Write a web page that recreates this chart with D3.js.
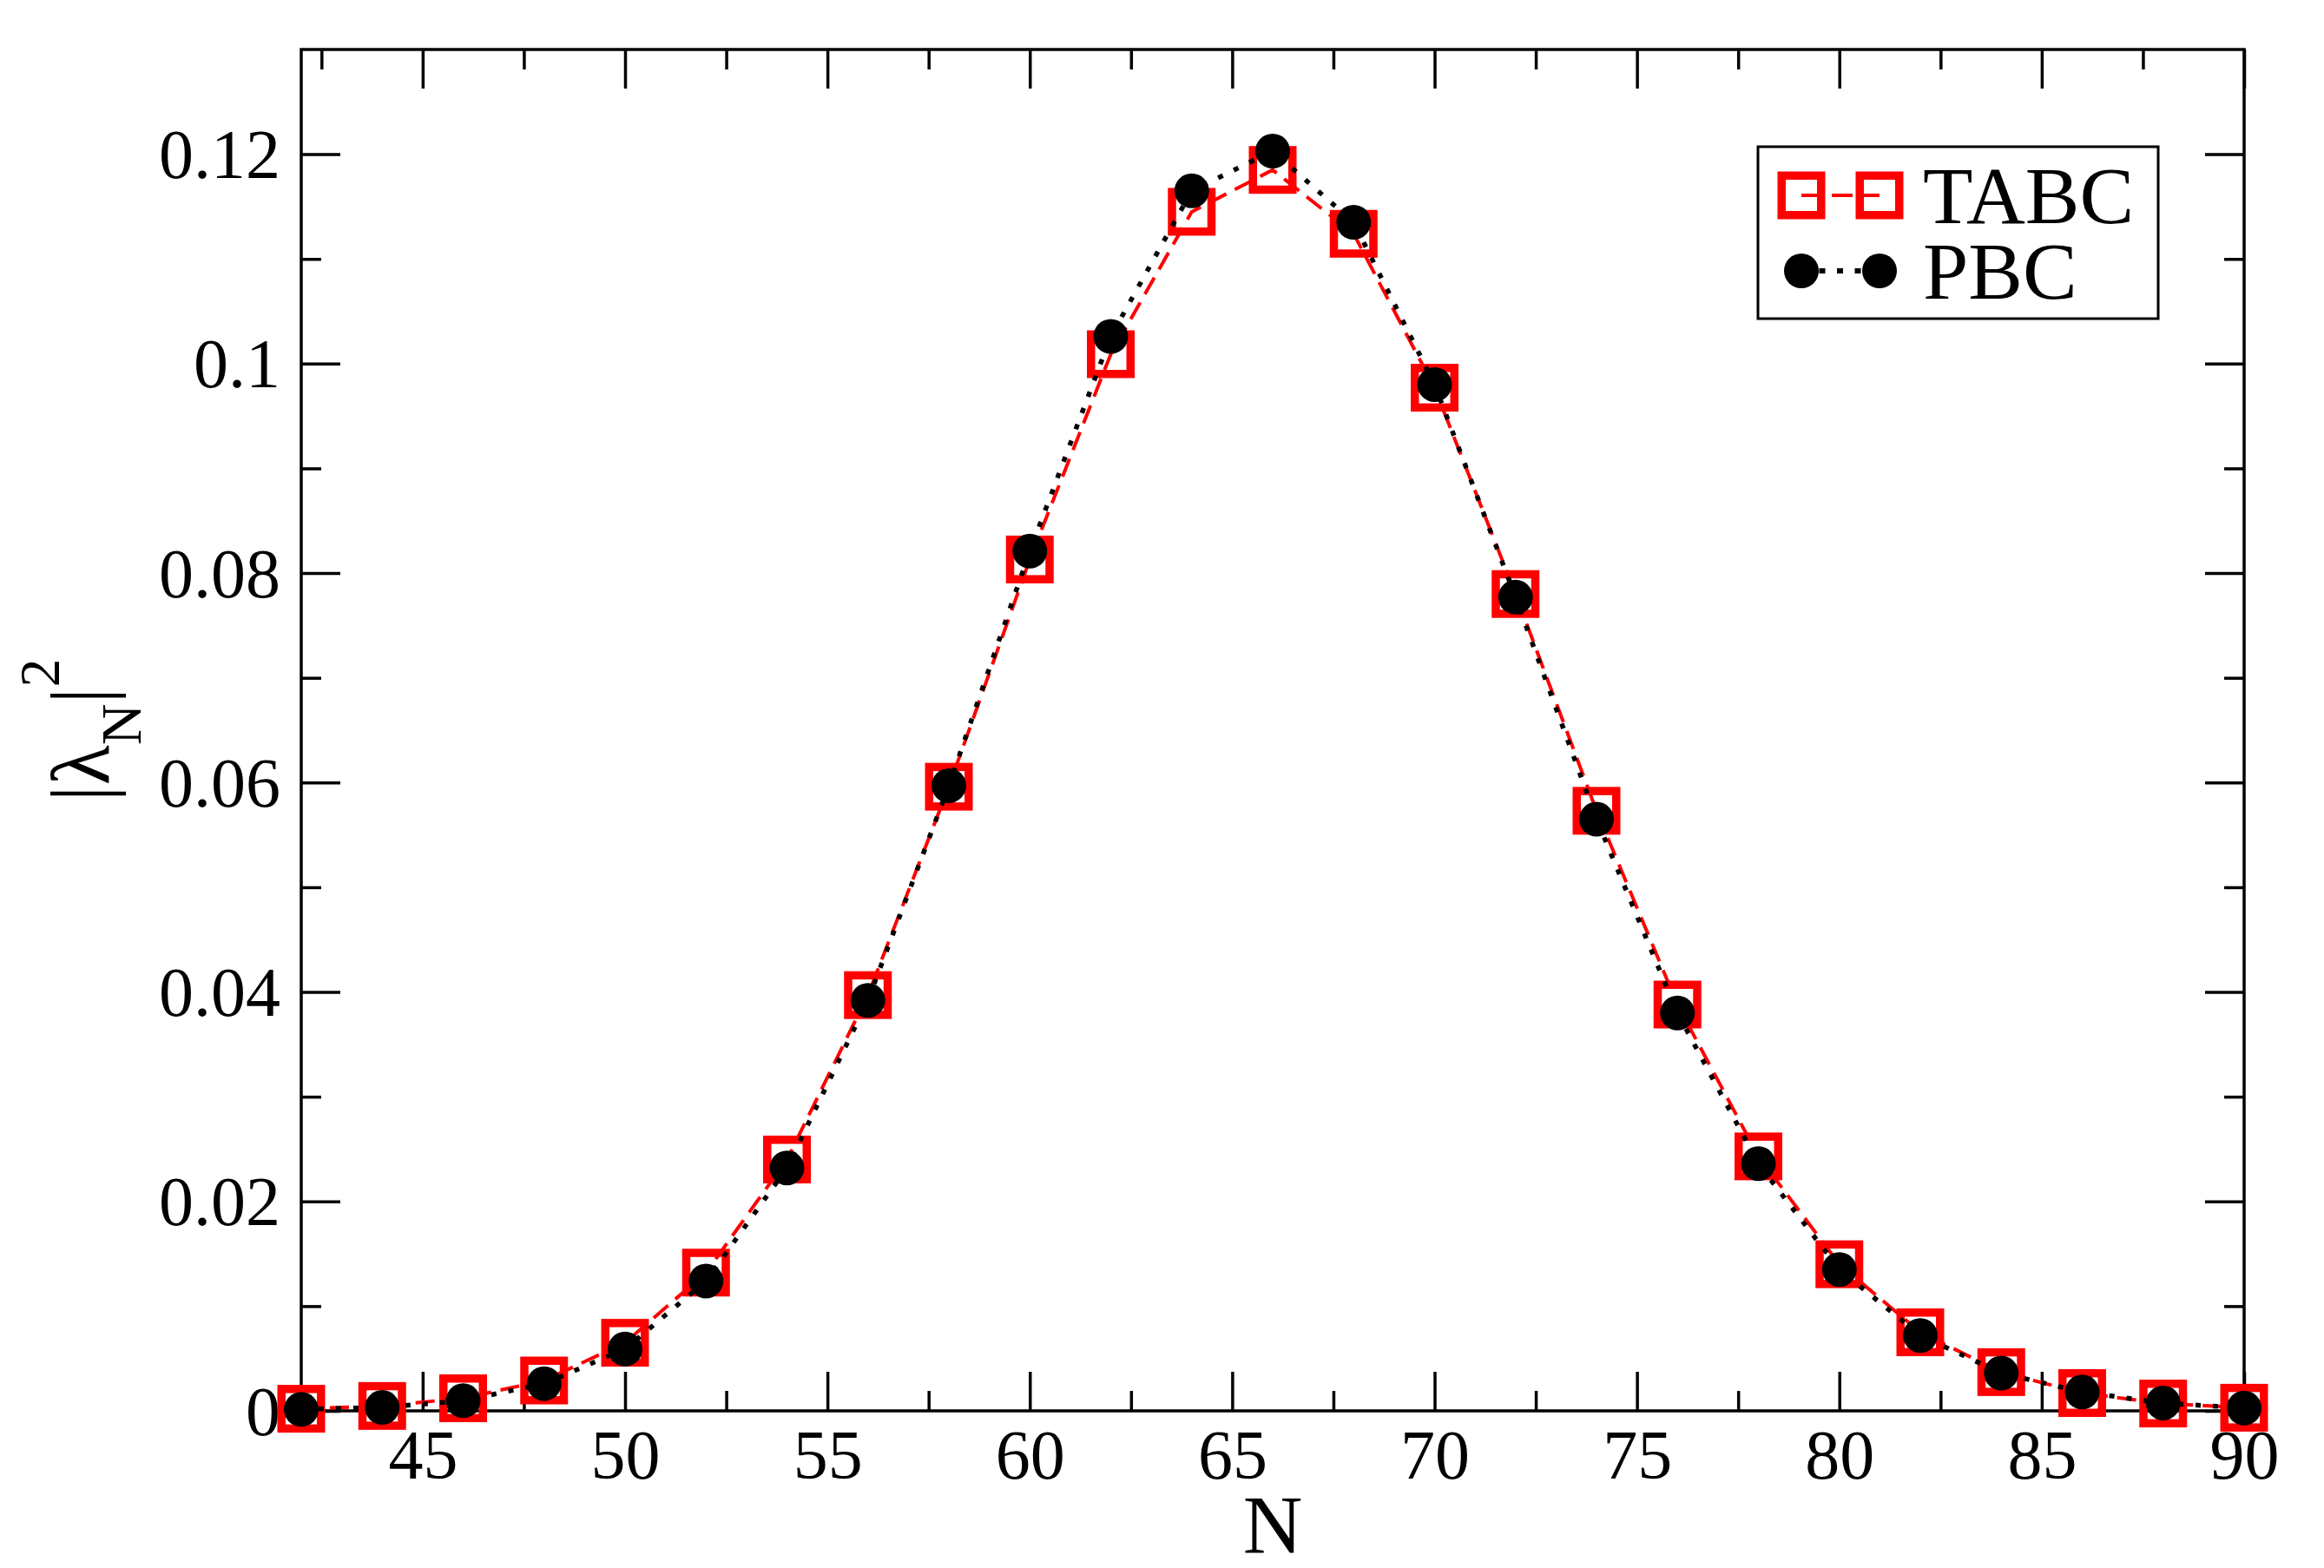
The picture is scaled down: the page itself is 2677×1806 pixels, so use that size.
<!DOCTYPE html>
<html>
<head>
<meta charset="utf-8">
<script src="https://cdn.jsdelivr.net/npm/d3@7"></script>
<style>
  body { margin: 0; background: #fff; }
  svg { display: block; }
  text { font-family: "Liberation Serif", "Times New Roman", serif; fill: #000; }
</style>
</head>
<body>
<div id="chart"></div>
<script>
const width = 2677
const height = 1806
const margin = { left: 347, right: 92, top: 57, bottom: 181 }

// data
const nValues = [42, 44, 46, 48, 50, 52, 54, 56, 58, 60, 62, 64, 66, 68, 70, 72, 74, 76, 78, 80, 82, 84, 86, 88, 90]
const tabc = [0.0002, 0.00047, 0.0012, 0.0029, 0.0065, 0.0132, 0.0240, 0.0397, 0.0596, 0.0813, 0.1009, 0.1145, 0.1185,
  0.1124, 0.0977, 0.0780, 0.0573, 0.0388, 0.0243, 0.0140, 0.0075, 0.0037, 0.0017, 0.0007, 0.0003]
const pbc = [0.00014, 0.00033, 0.00097, 0.0026, 0.0059, 0.0124, 0.0232, 0.0392, 0.0597, 0.0821, 0.1026, 0.1165, 0.1203,
  0.1135, 0.0980, 0.0777, 0.0565, 0.0380, 0.0236, 0.0135, 0.0072, 0.0036, 0.0018, 0.00075, 0.00027]

const xMajor = [45, 50, 55, 60, 65, 70, 75, 80, 85, 90]
const xMinor = [42.5, 47.5, 52.5, 57.5, 62.5, 67.5, 72.5, 77.5, 82.5, 87.5]
const yMajor = [0, 0.02, 0.04, 0.06, 0.08, 0.1, 0.12]
const yMinor = [0.01, 0.03, 0.05, 0.07, 0.09, 0.11]
const yLabels = ['0', '0.02', '0.04', '0.06', '0.08', '0.1', '0.12']
const seriesNames = ['TABC', 'PBC']

const x = d3.scaleLinear().domain([42, 90]).range([margin.left, width - margin.right])
const y = d3.scaleLinear().domain([0, 0.13]).range([height - margin.bottom, margin.top])

const svg = d3.select('#chart')
  .append('svg')
    .attr('width', width)
    .attr('height', height)

const majorLen = 45
const minorLen = 23
const tickFont = 80

// inward ticks on all four sides
const addAxis = (axis, transform) => svg.append('g')
  .attr('transform', transform)
  .call(axis)
  .call(g => g.select('.domain').remove())
  .call(g => g.selectAll('line').attr('stroke', '#000').attr('stroke-width', 3.5))

const x0 = x.range()[0], x1 = x.range()[1]
const y0 = y.range()[0], y1 = y.range()[1]

// bottom
addAxis(d3.axisBottom(x).tickValues(xMajor).tickSize(-majorLen).tickSizeOuter(0), `translate(0,${y0})`)
  .call(g => g.selectAll('text')
    .text(d => d)
    .attr('y', 78).attr('dy', 0)
    .attr('font-size', tickFont))
addAxis(d3.axisBottom(x).tickValues(xMinor).tickSize(-minorLen).tickSizeOuter(0).tickFormat(''), `translate(0,${y0})`)
// top
addAxis(d3.axisTop(x).tickValues(xMajor).tickSize(-majorLen).tickSizeOuter(0).tickFormat(''), `translate(0,${y1})`)
addAxis(d3.axisTop(x).tickValues(xMinor).tickSize(-minorLen).tickSizeOuter(0).tickFormat(''), `translate(0,${y1})`)
// left
addAxis(d3.axisLeft(y).tickValues(yMajor).tickSize(-majorLen).tickSizeOuter(0), `translate(${x0},0)`)
  .call(g => g.selectAll('text')
    .text((d, i) => yLabels[i])
    .attr('x', -24).attr('dy', 0).attr('y', 27)
    .attr('font-size', tickFont))
addAxis(d3.axisLeft(y).tickValues(yMinor).tickSize(-minorLen).tickSizeOuter(0).tickFormat(''), `translate(${x0},0)`)
// right
addAxis(d3.axisRight(y).tickValues(yMajor).tickSize(-majorLen).tickSizeOuter(0).tickFormat(''), `translate(${x1},0)`)
addAxis(d3.axisRight(y).tickValues(yMinor).tickSize(-minorLen).tickSizeOuter(0).tickFormat(''), `translate(${x1},0)`)

// frame
svg.append('rect')
  .attr('x', x0).attr('y', y1)
  .attr('width', x1 - x0).attr('height', y0 - y1)
  .attr('fill', 'none').attr('stroke', '#000').attr('stroke-width', 3.5)

// axis titles
svg.append('text')
  .attr('x', (x0 + x1) / 2).attr('y', 1789)
  .attr('text-anchor', 'middle')
  .attr('font-size', 95)
  .text('N')

const ylab = svg.append('text')
  .attr('transform', `translate(125,${(y0 + y1) / 2}) rotate(-90)`)
  .attr('text-anchor', 'middle')
  .attr('font-size', 95)
ylab.append('tspan').text('|λ')
ylab.append('tspan').attr('font-size', 66).attr('dy', 37).text('N')
ylab.append('tspan').attr('dy', -37).text('|')
ylab.append('tspan').attr('font-size', 66).attr('dy', -57).text('2')

// marker styles
const squareSide = 45.5
const circleR = 20
const drawSquares = (g, pts) => g.selectAll('rect')
  .data(pts).enter().append('rect')
    .attr('x', d => d[0] - squareSide / 2)
    .attr('y', d => d[1] - squareSide / 2)
    .attr('width', squareSide).attr('height', squareSide)
    .attr('fill', 'none').attr('stroke', '#ff0000').attr('stroke-width', 9.5)
const drawCircles = (g, pts) => g.selectAll('circle')
  .data(pts).enter().append('circle')
    .attr('cx', d => d[0]).attr('cy', d => d[1])
    .attr('r', circleR).attr('fill', '#000')

const line = d3.line()
const tabcPts = nValues.map((n, i) => [x(n), y(tabc[i])])
const pbcPts = nValues.map((n, i) => [x(n), y(pbc[i])])

const plot = svg.append('g')
plot.append('path')
  .attr('d', line(tabcPts))
  .attr('fill', 'none').attr('stroke', '#ff0000').attr('stroke-width', 4)
  .attr('stroke-dasharray', '22 11')
drawSquares(plot.append('g'), tabcPts)
plot.append('path')
  .attr('d', line(pbcPts))
  .attr('fill', 'none').attr('stroke', '#000').attr('stroke-width', 5.5)
  .attr('stroke-dasharray', '6 14')
drawCircles(plot.append('g'), pbcPts)

// legend
const legend = svg.append('g')
legend.append('rect')
  .attr('x', 2025).attr('y', 169).attr('width', 461).attr('height', 198)
  .attr('fill', '#fff').attr('stroke', '#000').attr('stroke-width', 3)
const rowY = [225, 312]
const markX = [2075, 2165]
legend.append('path')
  .attr('d', line(markX.map(v => [v, rowY[0]])))
  .attr('stroke', '#ff0000').attr('stroke-width', 4).attr('stroke-dasharray', '24 11')
drawSquares(legend.append('g'), markX.map(v => [v, rowY[0]]))
legend.append('path')
  .attr('d', line(markX.map(v => [v, rowY[1]])))
  .attr('stroke', '#000').attr('stroke-width', 6).attr('stroke-dasharray', '7 13.5')
drawCircles(legend.append('g'), markX.map(v => [v, rowY[1]]))
legend.selectAll('text.lab')
  .data(seriesNames).enter().append('text')
    .attr('class', 'lab')
    .attr('x', 2215)
    .attr('y', (d, i) => rowY[i] + 32)
    .attr('font-size', 94)
    .text(d => d)
</script>
</body>
</html>
